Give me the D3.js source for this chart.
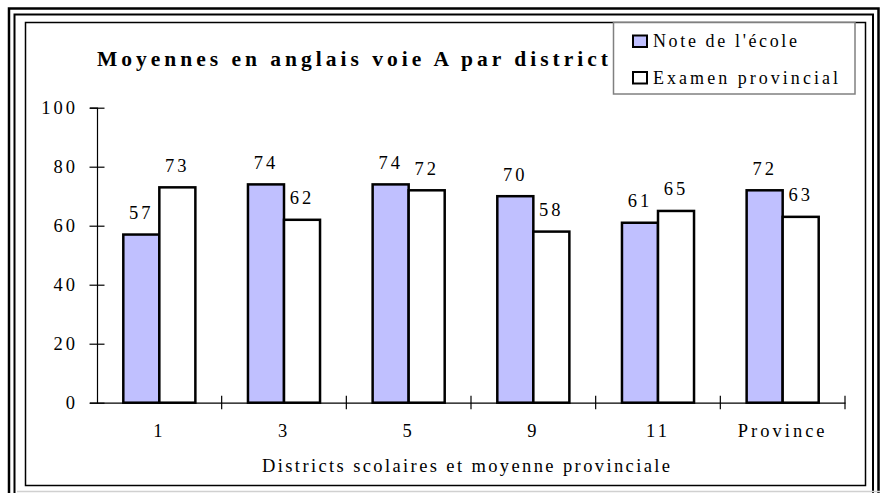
<!DOCTYPE html>
<html>
<head>
<meta charset="utf-8">
<script src="https://cdn.jsdelivr.net/npm/d3@7"></script>
<style>
  body { margin: 0; background: white; }
</style>
</head>
<body>
<svg id="chart"></svg>
<script>
const districts = ["1", "3", "5", "9", "11", "Province"];
const noteEcole = [57, 74, 74, 70, 61, 72];
const examenProv = [73, 62, 72, 58, 65, 63];
const seriesNames = ["Note de l'école", "Examen provincial"];
const yTicks = [0, 20, 40, 60, 80, 100];

const serif = '"Liberation Serif", "Times New Roman", serif';
const width = 880, height = 493;
const svg = d3.select("#chart")
  .attr("width", width)
  .attr("height", height)
  .attr("viewBox", [0, 0, width, height]);

// page frame (double line + inner box)
svg.append("rect").attr("x", 9).attr("y", 8.5).attr("width", 869.5).attr("height", 520)
  .attr("fill", "none").attr("stroke", "black").attr("stroke-width", 2.5);
svg.append("rect").attr("x", 14.5).attr("y", 14.5).attr("width", 858.5).attr("height", 520)
  .attr("fill", "none").attr("stroke", "black").attr("stroke-width", 2);
svg.append("line").attr("x1", 17).attr("x2", 880).attr("y1", 491.5).attr("y2", 491.5)
  .attr("stroke", "#d0d0d0").attr("stroke-width", 1.5);
svg.append("rect").attr("x", 25.5).attr("y", 22.5).attr("width", 840).attr("height", 463)
  .attr("fill", "white").attr("stroke", "black").attr("stroke-width", 1.5);

const x = d3.scaleBand().domain(districts).range([97, 845]);
const xs = d3.scaleBand().domain(seriesNames).range([0, x.bandwidth()]).paddingOuter(0.73);
const y = d3.scaleLinear().domain([0, 100]).range([402.7, 107.7]);

const colors = ["#c0c0ff", "white"];
const rows = districts.map((d, i) => ({district: d, values: [noteEcole[i], examenProv[i]]}));

// title
svg.append("text")
  .attr("x", 97).attr("y", 66)
  .style("font-family", serif)
  .attr("font-size", 21.5).attr("font-weight", "bold")
  .attr("textLength", 511).attr("lengthAdjust", "spacing")
  .text("Moyennes en anglais voie A par district");

// bars
const groups = svg.append("g").selectAll("g")
  .data(rows)
  .join("g")
  .attr("transform", d => `translate(${x(d.district)},0)`);

groups.selectAll("rect")
  .data(d => d.values.map((v, j) => ({key: seriesNames[j], value: v, j: j})))
  .join("rect")
  .attr("x", d => xs(d.key))
  .attr("y", d => y(d.value))
  .attr("width", xs.bandwidth())
  .attr("height", d => y(0) - y(d.value))
  .attr("fill", d => colors[d.j])
  .attr("stroke", "black")
  .attr("stroke-width", 2.5);

groups.selectAll("text")
  .data(d => d.values.map((v, j) => ({key: seriesNames[j], value: v})))
  .join("text")
  .attr("x", d => xs(d.key) + xs.bandwidth() / 2)
  .attr("y", d => y(d.value) - 15.5)
  .attr("text-anchor", "middle")
  .style("font-family", serif)
  .attr("font-size", 18.5)
  .attr("letter-spacing", 3)
  .text(d => d.value);

// y axis
const yAxis = svg.append("g")
  .attr("transform", "translate(97,0)")
  .call(d3.axisLeft(y).tickValues(yTicks).tickSize(7).tickPadding(12));
yAxis.select(".domain").attr("stroke", "black").attr("stroke-width", 1.2);
yAxis.selectAll(".tick line").attr("x1", -7.5).attr("x2", 7.5).attr("stroke", "black").attr("stroke-width", 1.2);
yAxis.selectAll(".tick text")
  .style("font-family", serif)
  .attr("font-size", 18.5).attr("letter-spacing", 3).attr("dy", "5.5").attr("y", 0);

// x axis: line, edge ticks, centered labels
const xAxis = svg.append("g")
  .attr("transform", `translate(0,${y(0)})`)
  .call(d3.axisBottom(x).tickSize(0).tickPadding(0));
xAxis.select(".domain").attr("stroke", "black").attr("stroke-width", 1.2);
xAxis.selectAll(".tick text")
  .style("font-family", serif)
  .attr("font-size", 18.5).attr("letter-spacing", 3)
  .attr("y", 34.5).attr("dy", 0);

const edges = districts.map(d => x(d)).concat([x.range()[1]]);
xAxis.selectAll(".edge")
  .data(edges.slice(1))
  .join("line")
  .attr("class", "edge")
  .attr("x1", d => d).attr("x2", d => d)
  .attr("y1", -7).attr("y2", 6.5)
  .attr("stroke", "black").attr("stroke-width", 1.2);

svg.append("text")
  .attr("x", 262).attr("y", 472)
  .style("font-family", serif)
  .attr("font-size", 18.5)
  .attr("textLength", 408).attr("lengthAdjust", "spacing")
  .text("Districts scolaires et moyenne provinciale");

// legend
const legend = svg.append("g");
legend.append("rect")
  .attr("x", 613.5).attr("y", 22.5).attr("width", 241.5).attr("height", 71.5)
  .attr("fill", "white").attr("stroke", "#808080").attr("stroke-width", 1.5);
const legendLen = [144, 185];
const li = legend.selectAll("g.item")
  .data(seriesNames)
  .join("g")
  .attr("class", "item")
  .attr("transform", (d, i) => `translate(0,${i * 36.5})`);
li.append("rect")
  .attr("x", 633).attr("y", 35.5).attr("width", 14).attr("height", 11.5)
  .attr("fill", (d, i) => colors[i]).attr("stroke", "black").attr("stroke-width", 2);
li.append("text")
  .attr("x", 653).attr("y", 47)
  .style("font-family", serif)
  .attr("font-size", 18)
  .attr("textLength", (d, i) => legendLen[i]).attr("lengthAdjust", "spacing")
  .text(d => d);
</script>
</body>
</html>
